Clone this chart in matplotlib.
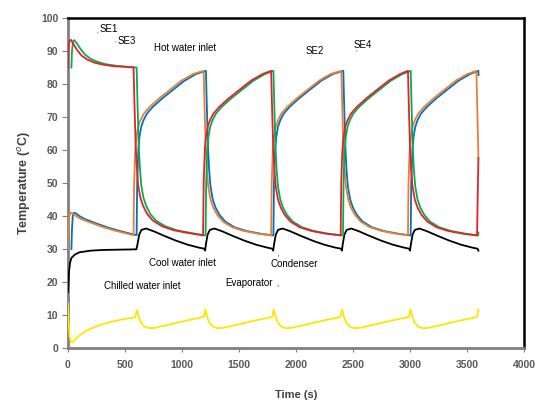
import matplotlib
matplotlib.use("Agg")
import matplotlib.pyplot as plt

plt.rcParams['font.family'] = ['Liberation Sans', 'DejaVu Sans']

# ---- data (time in s, temperature in degC) ----
se1_t = [0, 3, 12, 25, 50, 80, 120, 170, 230, 300, 400, 500, 575,
         583, 593, 603, 615, 635, 660, 695, 745, 825, 925, 1045, 1185,
         1190, 1200, 1210, 1225, 1245, 1275, 1325, 1405, 1495, 1605, 1705, 1782,
         1790, 1800, 1810, 1822, 1842, 1867, 1902, 1952, 2032, 2132, 2252, 2392,
         2397, 2407, 2417, 2432, 2452, 2482, 2532, 2612, 2702, 2812, 2912, 2982,
         2990, 3000, 3010, 3022, 3042, 3067, 3102, 3152, 3232, 3332, 3452, 3588,
         3594, 3600]
se1_T = [85, 90, 93, 93.4, 92, 90.3, 88.6, 87.4, 86.5, 85.9, 85.4, 85.2, 85,
         74, 62, 55, 49.5, 45.5, 43, 40.6, 38.6, 36.9, 35.7, 34.9, 34.1,
         50, 60, 64, 67, 69, 71, 73, 75.5, 78, 81, 83, 84,
         73, 61, 54, 49, 45, 42.5, 40.3, 38.3, 36.6, 35.5, 34.7, 34.1,
         50, 60, 64, 67, 69, 71, 73, 75.5, 78, 81, 83, 84,
         73, 61, 54, 49, 45, 42.5, 40.3, 38.3, 36.6, 35.5, 34.7, 34.1,
         46, 57.5]

se2_t = [0, 5, 12, 22, 40, 70, 110, 160, 230, 320, 420, 500, 575,
         580, 590, 600, 615, 635, 665, 715, 795, 885, 995, 1095, 1190,
         1198, 1208, 1218, 1230, 1250, 1275, 1310, 1360, 1440, 1540, 1660, 1782,
         1787, 1797, 1807, 1822, 1842, 1872, 1922, 2002, 2092, 2202, 2302, 2398,
         2406, 2416, 2426, 2438, 2458, 2483, 2518, 2568, 2648, 2748, 2868, 2982,
         2987, 2997, 3007, 3022, 3042, 3072, 3122, 3202, 3292, 3402, 3502, 3582,
         3592, 3600]
se2_T = [30, 36, 40, 41, 40.8, 40, 39.2, 38.5, 37.6, 36.5, 35.5, 34.8, 34.2,
         50, 60, 64, 67, 69, 71, 73, 75.5, 78, 81, 83, 84,
         73, 61, 54, 49, 45, 42.5, 40.3, 38.3, 36.6, 35.5, 34.7, 34.1,
         50, 60, 64, 67, 69, 71, 73, 75.5, 78, 81, 83, 84,
         73, 61, 54, 49, 45, 42.5, 40.3, 38.3, 36.6, 35.5, 34.7, 34.1,
         50, 60, 64, 67, 69, 71, 73, 75.5, 78, 81, 83, 84,
         70, 57.5]

se3_t = [30, 35, 45, 55, 80, 110, 150, 200, 260, 330, 430, 530, 602,
         610, 620, 630, 642, 662, 687, 722, 772, 852, 952, 1072, 1207,
         1212, 1222, 1232, 1247, 1267, 1297, 1347, 1427, 1517, 1627, 1727, 1802,
         1810, 1820, 1830, 1842, 1862, 1887, 1922, 1972, 2052, 2152, 2272, 2412,
         2417, 2427, 2437, 2452, 2472, 2502, 2552, 2632, 2722, 2832, 2932, 3006,
         3014, 3024, 3034, 3046, 3066, 3091, 3126, 3176, 3256, 3356, 3476, 3598,
         3600]
se3_T = [85, 90, 93, 93.3, 92.2, 90.6, 88.9, 87.6, 86.7, 86, 85.5, 85.2, 85,
         74, 62, 55, 49.5, 45.5, 43, 40.6, 38.6, 36.9, 35.7, 34.9, 34.1,
         50, 60, 64, 67, 69, 71, 73, 75.5, 78, 81, 83, 84,
         73, 61, 54, 49, 45, 42.5, 40.3, 38.3, 36.6, 35.5, 34.7, 34.1,
         50, 60, 64, 67, 69, 71, 73, 75.5, 78, 81, 83, 84,
         73, 61, 54, 49, 45, 42.5, 40.3, 38.3, 36.6, 35.5, 34.7, 34.1,
         35]

se4_t = [30, 35, 42, 52, 70, 100, 140, 190, 260, 350, 450, 530, 602,
         607, 617, 627, 642, 662, 692, 742, 822, 912, 1022, 1122, 1210,
         1218, 1228, 1238, 1250, 1270, 1295, 1330, 1380, 1460, 1560, 1680, 1802,
         1807, 1817, 1827, 1842, 1862, 1892, 1942, 2022, 2112, 2222, 2322, 2415,
         2423, 2433, 2443, 2455, 2475, 2500, 2535, 2585, 2665, 2765, 2885, 3006,
         3011, 3021, 3031, 3046, 3066, 3096, 3146, 3226, 3316, 3426, 3526, 3600,
         3601]
se4_T = [30, 36, 40, 41, 40.8, 40, 39.2, 38.5, 37.6, 36.5, 35.5, 34.8, 34.2,
         50, 60, 64, 67, 69, 71, 73, 75.5, 78, 81, 83, 84,
         73, 61, 54, 49, 45, 42.5, 40.3, 38.3, 36.6, 35.5, 34.7, 34.1,
         50, 60, 64, 67, 69, 71, 73, 75.5, 78, 81, 83, 84,
         73, 61, 54, 49, 45, 42.5, 40.3, 38.3, 36.6, 35.5, 34.7, 34.1,
         50, 60, 64, 67, 69, 71, 73, 75.5, 78, 81, 83, 84,
         82.7]

cool_t = [0, 4, 10, 18, 30, 60, 100, 200, 300, 450, 600,
          610, 625, 645, 685, 750, 850, 950, 1050, 1150, 1195, 1203,
          1210, 1225, 1245, 1285, 1350, 1450, 1550, 1650, 1750, 1792, 1800,
          1808, 1823, 1843, 1883, 1948, 2048, 2148, 2248, 2348, 2395, 2403,
          2410, 2425, 2445, 2485, 2550, 2650, 2750, 2850, 2950, 2992, 3000,
          3008, 3023, 3043, 3083, 3148, 3248, 3348, 3448, 3548, 3592, 3600]
cool_T = [17, 19.5, 23.5, 25.8, 27.3, 28.3, 29, 29.5, 29.7, 29.8, 29.9,
          31.5, 34.4, 35.8, 36.2, 35.4, 33.9, 32.5, 31.3, 30.4, 30.1, 29.5,
          31.5, 34.4, 35.8, 36.2, 35.4, 33.9, 32.5, 31.3, 30.4, 30.1, 29.5,
          31.5, 34.4, 35.8, 36.2, 35.4, 33.9, 32.5, 31.3, 30.4, 30.1, 29.5,
          31.5, 34.4, 35.8, 36.2, 35.4, 33.9, 32.5, 31.3, 30.4, 30.1, 29.5,
          31.5, 34.4, 35.8, 36.2, 35.4, 33.9, 32.5, 31.3, 30.4, 30.1, 29.5]

chill_t = [0, 6, 14, 25, 40, 70, 100, 150, 200, 300, 400, 500, 590, 605,
           620, 640, 670, 710, 760, 850, 950, 1050, 1150, 1192, 1205,
           1220, 1240, 1270, 1310, 1360, 1450, 1550, 1650, 1750, 1792, 1805,
           1820, 1840, 1870, 1910, 1960, 2050, 2150, 2250, 2350, 2392, 2405,
           2420, 2440, 2470, 2510, 2560, 2650, 2750, 2850, 2950, 2992, 3005,
           3020, 3040, 3070, 3110, 3160, 3250, 3350, 3450, 3550, 3590, 3600]
chill_T = [13.5, 8, 3.5, 1.8, 1.7, 2.8, 3.8, 5.0, 5.9, 7.2, 8.1, 8.8, 9.3, 11.5,
           9.5, 7.7, 6.5, 6.0, 6.1, 6.8, 7.6, 8.4, 9.1, 9.5, 11.7,
           9.5, 7.7, 6.5, 6.0, 6.1, 6.8, 7.6, 8.4, 9.1, 9.5, 11.7,
           9.5, 7.7, 6.5, 6.0, 6.1, 6.8, 7.6, 8.4, 9.1, 9.5, 11.7,
           9.5, 7.7, 6.5, 6.0, 6.1, 6.8, 7.6, 8.4, 9.1, 9.5, 11.7,
           9.5, 7.7, 6.5, 6.0, 6.1, 6.8, 7.6, 8.4, 9.1, 9.5, 11.7]

x_ticks = [0, 500, 1000, 1500, 2000, 2500, 3000, 3500, 4000]
y_ticks = [0, 10, 20, 30, 40, 50, 60, 70, 80, 90, 100]

# ---- figure ----
fig = plt.figure(figsize=(5.37, 4.03), dpi=100)
ax = fig.add_axes([0.1266, 0.1365, 0.8492, 0.8188])

lw = 1.3
# lines above the spines so the steep starts at t=0 stay visible
ax.plot(chill_t, chill_T, color='#ffe600', lw=lw, zorder=3)
ax.plot(cool_t, cool_T, color='black', lw=lw, zorder=3)
ax.plot(se4_t, se4_T, color='#0070c0', lw=lw, zorder=3)
ax.plot(se2_t, se2_T, color='#ed7d31', lw=lw, zorder=3)
ax.plot(se3_t, se3_T, color='#00b050', lw=lw, zorder=3)
ax.plot(se1_t, se1_T, color='#e8202a', lw=lw, zorder=3)

ax.set_xlim(0, 4000)
ax.set_ylim(0, 100)
ax.set_xticks(x_ticks)
ax.set_yticks(y_ticks)

for lab in ax.get_xticklabels() + ax.get_yticklabels():
    lab.set_fontweight('bold')
ax.tick_params(axis='x', length=3, pad=6, labelsize=7.5, labelcolor='#595959', color='#808080')
ax.tick_params(axis='y', length=4, pad=3, labelsize=7.5, labelcolor='#595959', color='#808080')

ax.spines['left'].set_color('#808080')
ax.spines['left'].set_linewidth(2)
ax.spines['bottom'].set_color('#808080')
ax.spines['bottom'].set_linewidth(2)
ax.spines['top'].set_color('black')
ax.spines['top'].set_linewidth(1.8)
ax.spines['right'].set_color('black')
ax.spines['right'].set_linewidth(1.8)

ax.set_xlabel('Time (s)', fontsize=8, fontweight='bold', color='#404040', labelpad=14)
ax.set_ylabel('Temperature ($^{o}$C)', fontsize=9, fontweight='bold', color='#404040', labelpad=6)

# ---- labels inside the plot ----
fs = 7
ax.text(275, 96.6, 'SE1', fontsize=fs, va='center')
ax.text(252, 94.8, "'", fontsize=6, color='#e8202a', va='center')
ax.text(432, 92.9, 'SE3', fontsize=fs, va='center')
ax.text(412, 92.3, "'", fontsize=6, color='#00b050', va='center')
ax.text(757, 91, 'Hot water inlet', fontsize=fs, va='center')
ax.text(2088, 90, 'SE2', fontsize=fs, va='center')
ax.text(2123, 87.8, "'", fontsize=6, color='#ed7d31', va='center')
ax.text(2509, 91.7, 'SE4', fontsize=fs, va='center')
ax.text(2526, 89.3, "'", fontsize=6, color='#0070c0', va='center')
ax.text(713, 25.9, 'Cool water inlet', fontsize=fs, va='center')
ax.text(318, 18.7, 'Chilled water inlet', fontsize=fs, va='center')
ax.text(1772, 25.5, 'Condenser', fontsize=fs, va='center')
ax.text(1836, 27.2, "'", fontsize=5, color='black', va='center')
ax.text(1383, 19.8, 'Evaporator', fontsize=fs, va='center')
ax.text(1831, 19.1, ',', fontsize=5, color='black', va='center')

fig.savefig('out.png', dpi=100)
